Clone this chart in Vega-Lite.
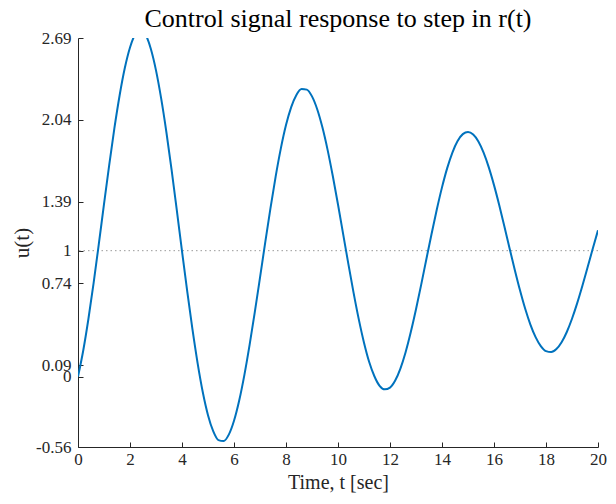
{
  "$schema": "https://vega.github.io/schema/vega-lite/v6.json",
  "width": 520,
  "height": 409,
  "autosize": {"type": "none"},
  "padding": {"left": 78, "top": 38, "right": 18, "bottom": 57},
  "background": "white",
  "config": {
    "view": {"stroke": null},
    "font": "Liberation Serif",
    "axis": {
      "domainColor": "#262626",
      "tickColor": "#262626",
      "labelColor": "#262626",
      "titleColor": "#262626",
      "labelFont": "Liberation Serif",
      "titleFont": "Liberation Serif",
      "labelFontSize": 17,
      "titleFontSize": 20,
      "titleFontWeight": "normal",
      "grid": false,
      "tickSize": -5,
      "domainWidth": 1,
      "tickWidth": 1
    }
  },
  "title": {
    "text": "Control signal response to step in r(t)",
    "font": "Liberation Serif",
    "fontSize": 26,
    "fontWeight": "normal",
    "color": "#000000",
    "anchor": "middle",
    "offset": -3
  },
  "layer": [
    {
      "data": {"values": [{"t": 0, "u": 1}]},
      "mark": {"type": "rule", "color": "#9a9a9a", "strokeWidth": 1, "strokeDash": [1.5, 3]},
      "encoding": {
        "y": {"field": "u", "type": "quantitative", "scale": {"domain": [-0.56, 2.69], "nice": false, "zero": false}}
      }
    },
    {
      "data": {
        "values": [
          {"t": 0, "u": 0}, {"t": 0.2, "u": 0.205}, {"t": 0.4, "u": 0.457}, {"t": 0.6, "u": 0.743},
          {"t": 0.8, "u": 1.052}, {"t": 1.0, "u": 1.369}, {"t": 1.2, "u": 1.68}, {"t": 1.4, "u": 1.973},
          {"t": 1.6, "u": 2.233}, {"t": 1.8, "u": 2.451}, {"t": 2.0, "u": 2.615}, {"t": 2.2, "u": 2.72},
          {"t": 2.42, "u": 2.76}, {"t": 2.6, "u": 2.717}, {"t": 2.8, "u": 2.605}, {"t": 3.0, "u": 2.433},
          {"t": 3.2, "u": 2.208}, {"t": 3.4, "u": 1.941}, {"t": 3.6, "u": 1.642}, {"t": 3.8, "u": 1.322},
          {"t": 4.0, "u": 0.997}, {"t": 4.2, "u": 0.678}, {"t": 4.4, "u": 0.378}, {"t": 4.6, "u": 0.107},
          {"t": 4.8, "u": -0.125}, {"t": 5.0, "u": -0.307}, {"t": 5.2, "u": -0.434}, {"t": 5.4, "u": -0.505},
          {"t": 5.6, "u": -0.513}, {"t": 5.8, "u": -0.462}, {"t": 6.0, "u": -0.352}, {"t": 6.2, "u": -0.191},
          {"t": 6.4, "u": 0.013}, {"t": 6.6, "u": 0.251}, {"t": 6.8, "u": 0.512}, {"t": 7.0, "u": 0.786},
          {"t": 7.2, "u": 1.064}, {"t": 7.4, "u": 1.334}, {"t": 7.6, "u": 1.587}, {"t": 7.8, "u": 1.811},
          {"t": 8.0, "u": 1.998}, {"t": 8.2, "u": 2.141}, {"t": 8.4, "u": 2.238}, {"t": 8.6, "u": 2.285},
          {"t": 8.8, "u": 2.28}, {"t": 9.0, "u": 2.226}, {"t": 9.2, "u": 2.124}, {"t": 9.4, "u": 1.98},
          {"t": 9.6, "u": 1.801}, {"t": 9.8, "u": 1.593}, {"t": 10.0, "u": 1.367}, {"t": 10.2, "u": 1.13},
          {"t": 10.4, "u": 0.893}, {"t": 10.6, "u": 0.665}, {"t": 10.8, "u": 0.454}, {"t": 11.0, "u": 0.269},
          {"t": 11.2, "u": 0.115}, {"t": 11.4, "u": 0.002}, {"t": 11.6, "u": -0.074}, {"t": 11.8, "u": -0.102},
          {"t": 12.0, "u": -0.088}, {"t": 12.2, "u": -0.032}, {"t": 12.4, "u": 0.063}, {"t": 12.6, "u": 0.193},
          {"t": 12.8, "u": 0.353}, {"t": 13.0, "u": 0.534}, {"t": 13.2, "u": 0.73}, {"t": 13.4, "u": 0.934},
          {"t": 13.6, "u": 1.135}, {"t": 13.8, "u": 1.327}, {"t": 14.0, "u": 1.503}, {"t": 14.2, "u": 1.656},
          {"t": 14.4, "u": 1.78}, {"t": 14.6, "u": 1.871}, {"t": 14.8, "u": 1.926}, {"t": 15.0, "u": 1.943},
          {"t": 15.2, "u": 1.923}, {"t": 15.4, "u": 1.868}, {"t": 15.6, "u": 1.779}, {"t": 15.8, "u": 1.662},
          {"t": 16.0, "u": 1.521}, {"t": 16.2, "u": 1.363}, {"t": 16.4, "u": 1.192}, {"t": 16.6, "u": 1.018},
          {"t": 16.8, "u": 0.847}, {"t": 17.0, "u": 0.685}, {"t": 17.2, "u": 0.538}, {"t": 17.4, "u": 0.413},
          {"t": 17.6, "u": 0.313}, {"t": 17.8, "u": 0.242}, {"t": 18.0, "u": 0.202}, {"t": 18.2, "u": 0.194},
          {"t": 18.4, "u": 0.218}, {"t": 18.6, "u": 0.272}, {"t": 18.8, "u": 0.354}, {"t": 19.0, "u": 0.459},
          {"t": 19.2, "u": 0.583}, {"t": 19.4, "u": 0.721}, {"t": 19.6, "u": 0.868}, {"t": 19.8, "u": 1.017},
          {"t": 20.0, "u": 1.162}
        ]
      },
      "mark": {"type": "line", "color": "#0072BD", "strokeWidth": 2, "clip": true, "interpolate": "monotone"},
      "encoding": {
        "x": {
          "field": "t",
          "type": "quantitative",
          "scale": {"domain": [0, 20], "nice": false},
          "axis": {
            "title": "Time, t [sec]",
            "values": [0, 2, 4, 6, 8, 10, 12, 14, 16, 18, 20],
            "labelPadding": 9,
            "titlePadding": 5,
            "labelFlush": false
          }
        },
        "y": {
          "field": "u",
          "type": "quantitative",
          "scale": {"domain": [-0.56, 2.69], "nice": false, "zero": false},
          "axis": {
            "title": "u(t)",
            "titleFontSize": 21,
            "values": [-0.56, 0, 0.09, 0.74, 1, 1.39, 2.04, 2.69],
            "labelExpr": "datum.value < 0 ? '-' + format(-datum.value, '.2f') : format(datum.value, '~g')",
            "labelPadding": 12,
            "titlePadding": 3,
            "labelFlush": false,
            "labelOverlap": false
          }
        }
      }
    }
  ]
}
